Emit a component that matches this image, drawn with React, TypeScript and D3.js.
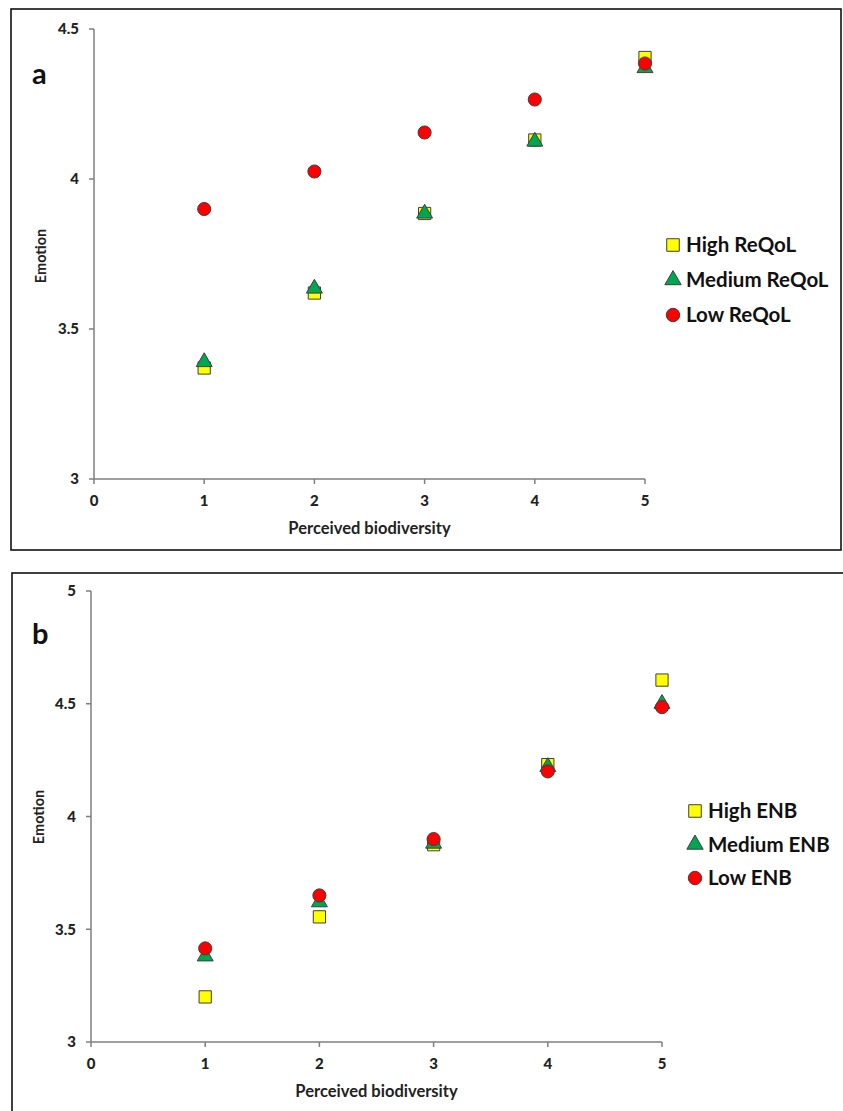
import React from "react";
import * as d3 from "d3";

const xTicks = [0, 1, 2, 3, 4, 5];
const levels = [1, 2, 3, 4, 5];

const aYTicks = [3, 3.5, 4, 4.5];
const aHigh = [3.37, 3.62, 3.885, 4.13, 4.405];
const aMedium = [3.39, 3.635, 3.885, 4.125, 4.37];
const aLow = [3.9, 4.025, 4.155, 4.265, 4.385];
const aNames = ["High ReQoL", "Medium ReQoL", "Low ReQoL"];

const bYTicks = [3, 3.5, 4, 4.5, 5];
const bHigh = [3.2, 3.555, 3.875, 4.23, 4.605];
const bMedium = [3.38, 3.62, 3.88, 4.22, 4.5];
const bLow = [3.415, 3.65, 3.9, 4.2, 4.485];
const bNames = ["High ENB", "Medium ENB", "Low ENB"];

const FONT = "Lato, 'Open Sans', sans-serif";
const STROKE = "#3f3f3f";
const styles = [
  { type: d3.symbolSquare, fill: "#ffff00", size: 150 },
  { type: d3.symbolTriangle, fill: "#00a650", size: 110 },
  { type: d3.symbolCircle, fill: "#ff0000", size: 135 },
];

type PanelProps = {
  box: [number, number, number, number];
  x0: number; x1: number; y0: number; y1: number;
  yDomain: [number, number];
  yTicks: number[];
  series: number[][];
  names: string[];
  letter: string;
  letterPos: [number, number];
  emotionPos: [number, number];
  legend: [number, number];
  legendGap: number;
};

function Panel(p: PanelProps) {
  const x = d3.scaleLinear().domain([0, 5]).range([p.x0, p.x1]);
  const y = d3.scaleLinear().domain(p.yDomain).range([p.y0, p.y1]);
  const sym = (i: number, scale = 1) =>
    d3.symbol().type(styles[i].type).size(styles[i].size * scale)() as string;
  return (
    <g>
      <rect x={p.box[0]} y={p.box[1]} width={p.box[2]} height={p.box[3]} fill="none" stroke="#111" strokeWidth={1.6} />
      <text x={p.letterPos[0]} y={p.letterPos[1]} fontFamily={FONT} fontWeight="bold" fontSize={29} fill="#111">{p.letter}</text>
      <text transform={`translate(${p.emotionPos[0]},${p.emotionPos[1]}) rotate(-90)`} textAnchor="middle" fontFamily={FONT} fontWeight="bold" fontSize={14.5} fill="#222">Emotion</text>
      {/* axes */}
      <line x1={p.x0} x2={p.x0} y1={y(p.yDomain[1])} y2={p.y0} stroke="#7f7f7f" strokeWidth={1.5} />
      <line x1={p.x0} x2={p.x1} y1={p.y0} y2={p.y0} stroke="#7f7f7f" strokeWidth={1.5} />
      {p.yTicks.map((t) => (
        <g key={"y" + t}>
          <line x1={p.x0 - 5} x2={p.x0} y1={y(t)} y2={y(t)} stroke="#7f7f7f" strokeWidth={1.5} />
          <text x={p.x0 - 15} y={y(t)} dy="0.35em" textAnchor="end" fontFamily={FONT} fontWeight={900} fontSize={15} fill="#222">{t}</text>
        </g>
      ))}
      {xTicks.map((t) => (
        <g key={"x" + t}>
          <line x1={x(t)} x2={x(t)} y1={p.y0} y2={p.y0 + 5} stroke="#7f7f7f" strokeWidth={1.5} />
          <text x={x(t)} y={p.y0 + 27} textAnchor="middle" fontFamily={FONT} fontWeight={900} fontSize={15} fill="#222">{t}</text>
        </g>
      ))}
      <text x={(p.x0 + p.x1) / 2} y={p.y0 + 55} textAnchor="middle" fontFamily={FONT} fontWeight="bold" fontSize={16.5} fill="#222">Perceived biodiversity</text>
      {/* points */}
      {p.series.map((vals, si) =>
        vals.map((v, i) => (
          <path key={si + "-" + i} d={sym(si)} transform={`translate(${x(levels[i])},${y(v)})`} fill={styles[si].fill} stroke={STROKE} strokeWidth={1} />
        ))
      )}
      {/* legend */}
      {p.names.map((n, i) => (
        <g key={n} transform={`translate(${p.legend[0]},${p.legend[1] + i * p.legendGap})`}>
          <path d={sym(i, 1.05)} fill={styles[i].fill} stroke={STROKE} strokeWidth={1} />
          <text x={13} y={0} dy="0.36em" fontFamily={FONT} fontWeight="bold" fontSize={20.5} fill="#111">{n}</text>
        </g>
      ))}
    </g>
  );
}

export default function App() {
  return (
    <svg width={843} height={1111} style={{ position: "absolute", left: 0, top: 0, background: "#fff" }}>
      <rect width={843} height={1111} fill="#fff" />
      <Panel
        box={[11, 9, 830, 541]}
        x0={94} x1={645} y0={479} y1={29}
        yDomain={[3, 4.5]} yTicks={aYTicks}
        series={[aHigh, aMedium, aLow]} names={aNames}
        letter="a" letterPos={[32, 84]} emotionPos={[46, 256]}
        legend={[673, 245]} legendGap={35}
      />
      <Panel
        box={[12, 573, 840, 560]}
        x0={91} x1={662} y0={1042} y1={591}
        yDomain={[3, 5]} yTicks={bYTicks}
        series={[bHigh, bMedium, bLow]} names={bNames}
        letter="b" letterPos={[32, 644]} emotionPos={[44, 817]}
        legend={[695, 811]} legendGap={33.5}
      />
    </svg>
  );
}
